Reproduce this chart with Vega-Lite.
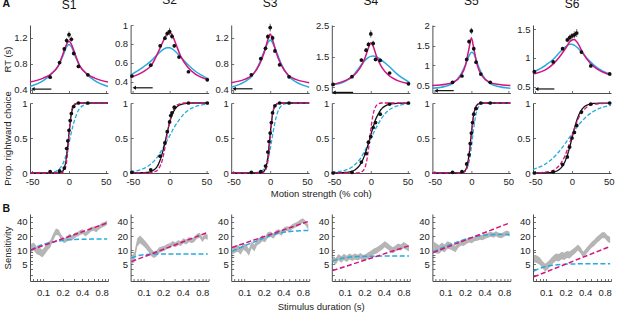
{
"$schema":"https://vega.github.io/schema/vega-lite/v6.json",
"padding":{"left":1,"right":2,"top":-6,"bottom":4},
"config":{
 "view":{"stroke":null},
 "font":"Liberation Sans",
 "axis":{"grid":false,"domainColor":"#4d4d4d","tickColor":"#4d4d4d","domainWidth":1,"tickWidth":0.8,"tickSize":-2.5,"labelPadding":5.5,"labelFontSize":9.5,"labelColor":"#222","labelFont":"Liberation Sans","titleFont":"Liberation Sans","titleFontSize":9.5,"titleFontWeight":"normal","titleColor":"#222","format":".2~f","labelFlush":false,"labelOverlap":false},
 "axisY":{"minExtent":16,"maxExtent":16,"titlePadding":2},
 "title":{"font":"Liberation Sans","fontSize":12,"fontWeight":"normal","color":"#111","offset":13,"frame":"group","anchor":"middle"}
},
"datasets":{
"rtfit":[
{"s":"S1","x":-53,"m":0.52,"c":0.45},{"s":"S1","x":-35,"m":0.58,"c":0.54},{"s":"S1","x":-25,"m":0.64,"c":0.63},{"s":"S1","x":-15,"m":0.76,"c":0.76},{"s":"S1","x":-8,"m":0.96,"c":0.93},{"s":"S1","x":-3,"m":1.11,"c":1.07},{"s":"S1","x":0,"m":1.15,"c":1.10},{"s":"S1","x":3,"m":1.11,"c":1.07},{"s":"S1","x":8,"m":0.96,"c":0.93},{"s":"S1","x":15,"m":0.76,"c":0.76},{"s":"S1","x":25,"m":0.64,"c":0.63},{"s":"S1","x":35,"m":0.58,"c":0.54},{"s":"S1","x":53,"m":0.52,"c":0.45},
{"s":"S2","x":-53,"m":0.445,"c":0.47},{"s":"S2","x":-35,"m":0.51,"c":0.56},{"s":"S2","x":-25,"m":0.57,"c":0.62},{"s":"S2","x":-15,"m":0.72,"c":0.70},{"s":"S2","x":-8,"m":0.84,"c":0.745},{"s":"S2","x":-3,"m":0.91,"c":0.76},{"s":"S2","x":0,"m":0.92,"c":0.76},{"s":"S2","x":3,"m":0.90,"c":0.75},{"s":"S2","x":8,"m":0.81,"c":0.72},{"s":"S2","x":15,"m":0.67,"c":0.66},{"s":"S2","x":25,"m":0.55,"c":0.58},{"s":"S2","x":35,"m":0.48,"c":0.51},{"s":"S2","x":53,"m":0.42,"c":0.43},
{"s":"S3","x":-53,"m":0.51,"c":0.44},{"s":"S3","x":-35,"m":0.56,"c":0.52},{"s":"S3","x":-25,"m":0.62,"c":0.61},{"s":"S3","x":-15,"m":0.78,"c":0.80},{"s":"S3","x":-8,"m":0.98,"c":1.00},{"s":"S3","x":-3,"m":1.18,"c":1.13},{"s":"S3","x":0,"m":1.26,"c":1.17},{"s":"S3","x":3,"m":1.18,"c":1.13},{"s":"S3","x":8,"m":0.98,"c":1.00},{"s":"S3","x":15,"m":0.78,"c":0.80},{"s":"S3","x":25,"m":0.62,"c":0.61},{"s":"S3","x":35,"m":0.56,"c":0.52},{"s":"S3","x":53,"m":0.51,"c":0.44},
{"s":"S4","x":-53,"m":0.59,"c":0.58},{"s":"S4","x":-35,"m":0.72,"c":0.70},{"s":"S4","x":-25,"m":0.85,"c":0.86},{"s":"S4","x":-15,"m":1.12,"c":1.17},{"s":"S4","x":-8,"m":1.45,"c":1.38},{"s":"S4","x":-3,"m":1.80,"c":1.48},{"s":"S4","x":0,"m":1.95,"c":1.51},{"s":"S4","x":3,"m":1.85,"c":1.52},{"s":"S4","x":8,"m":1.50,"c":1.49},{"s":"S4","x":15,"m":1.15,"c":1.38},{"s":"S4","x":25,"m":0.88,"c":1.18},{"s":"S4","x":35,"m":0.74,"c":0.95},{"s":"S4","x":53,"m":0.62,"c":0.66},
{"s":"S5","x":-53,"m":0.49,"c":0.42},{"s":"S5","x":-35,"m":0.52,"c":0.47},{"s":"S5","x":-25,"m":0.57,"c":0.55},{"s":"S5","x":-15,"m":0.72,"c":0.75},{"s":"S5","x":-8,"m":1.00,"c":1.02},{"s":"S5","x":-3,"m":1.45,"c":1.25},{"s":"S5","x":0,"m":1.70,"c":1.33},{"s":"S5","x":3,"m":1.45,"c":1.30},{"s":"S5","x":8,"m":1.00,"c":1.05},{"s":"S5","x":15,"m":0.72,"c":0.75},{"s":"S5","x":25,"m":0.57,"c":0.55},{"s":"S5","x":35,"m":0.52,"c":0.47},{"s":"S5","x":53,"m":0.49,"c":0.42},
{"s":"S6","x":-53,"m":0.72,"c":0.75},{"s":"S6","x":-35,"m":0.80,"c":0.88},{"s":"S6","x":-25,"m":0.90,"c":0.98},{"s":"S6","x":-15,"m":1.05,"c":1.12},{"s":"S6","x":-8,"m":1.18,"c":1.20},{"s":"S6","x":-3,"m":1.28,"c":1.235},{"s":"S6","x":0,"m":1.31,"c":1.235},{"s":"S6","x":3,"m":1.32,"c":1.22},{"s":"S6","x":8,"m":1.25,"c":1.17},{"s":"S6","x":15,"m":1.08,"c":1.07},{"s":"S6","x":25,"m":0.90,"c":0.93},{"s":"S6","x":35,"m":0.80,"c":0.82},{"s":"S6","x":53,"m":0.70,"c":0.71}
],
"rtdata":[
{"s":"S1","x":-25.6,"y":0.595,"lo":0.58,"hi":0.61},{"s":"S1","x":-12.8,"y":0.82,"lo":0.80,"hi":0.84},{"s":"S1","x":-6.4,"y":1.03,"lo":1.00,"hi":1.06},{"s":"S1","x":-3.2,"y":1.16,"lo":1.12,"hi":1.20},{"s":"S1","x":0,"y":1.25,"lo":1.20,"hi":1.30},{"s":"S1","x":3.2,"y":1.18,"lo":1.14,"hi":1.22},{"s":"S1","x":6.4,"y":0.96,"lo":0.93,"hi":0.99},{"s":"S1","x":12.8,"y":0.76,"lo":0.74,"hi":0.78},{"s":"S1","x":25.6,"y":0.63,"lo":0.61,"hi":0.65},
{"s":"S2","x":-51.2,"y":0.46,"lo":0.45,"hi":0.47},{"s":"S2","x":-25.6,"y":0.575,"lo":0.565,"hi":0.585},{"s":"S2","x":-12.8,"y":0.78,"lo":0.765,"hi":0.795},{"s":"S2","x":-6.4,"y":0.86,"lo":0.84,"hi":0.88},{"s":"S2","x":-3.2,"y":0.91,"lo":0.88,"hi":0.94},{"s":"S2","x":0,"y":0.93,"lo":0.89,"hi":0.97},{"s":"S2","x":3.2,"y":0.88,"lo":0.85,"hi":0.91},{"s":"S2","x":6.4,"y":0.78,"lo":0.76,"hi":0.80},{"s":"S2","x":12.8,"y":0.66,"lo":0.65,"hi":0.67},{"s":"S2","x":25.6,"y":0.505,"lo":0.495,"hi":0.515},{"s":"S2","x":51.2,"y":0.42,"lo":0.41,"hi":0.43},
{"s":"S3","x":-25.6,"y":0.63,"lo":0.61,"hi":0.65},{"s":"S3","x":-12.8,"y":0.88,"lo":0.86,"hi":0.90},{"s":"S3","x":-6.4,"y":1.04,"lo":1.01,"hi":1.07},{"s":"S3","x":-3.2,"y":1.22,"lo":1.18,"hi":1.26},{"s":"S3","x":0,"y":1.36,"lo":1.30,"hi":1.42},{"s":"S3","x":3.2,"y":1.20,"lo":1.16,"hi":1.24},{"s":"S3","x":6.4,"y":1.00,"lo":0.97,"hi":1.03},{"s":"S3","x":12.8,"y":0.785,"lo":0.77,"hi":0.80},{"s":"S3","x":25.6,"y":0.60,"lo":0.585,"hi":0.615},
{"s":"S4","x":-51.2,"y":0.60,"lo":0.58,"hi":0.62},{"s":"S4","x":-25.6,"y":0.85,"lo":0.82,"hi":0.88},{"s":"S4","x":-12.8,"y":1.39,"lo":1.34,"hi":1.44},{"s":"S4","x":-6.4,"y":1.71,"lo":1.64,"hi":1.78},{"s":"S4","x":-3.2,"y":1.90,"lo":1.82,"hi":1.98},{"s":"S4","x":0,"y":2.24,"lo":2.12,"hi":2.36},{"s":"S4","x":3.2,"y":1.93,"lo":1.84,"hi":2.02},{"s":"S4","x":6.4,"y":1.41,"lo":1.35,"hi":1.47},{"s":"S4","x":12.8,"y":1.38,"lo":1.33,"hi":1.43},{"s":"S4","x":25.6,"y":0.97,"lo":0.94,"hi":1.00},{"s":"S4","x":51.2,"y":0.62,"lo":0.60,"hi":0.64},
{"s":"S5","x":-25.6,"y":0.57,"lo":0.56,"hi":0.58},{"s":"S5","x":-12.8,"y":0.73,"lo":0.71,"hi":0.75},{"s":"S5","x":-6.4,"y":1.15,"lo":1.11,"hi":1.19},{"s":"S5","x":-3.2,"y":1.60,"lo":1.54,"hi":1.66},{"s":"S5","x":0,"y":1.87,"lo":1.79,"hi":1.95},{"s":"S5","x":3.2,"y":1.42,"lo":1.37,"hi":1.47},{"s":"S5","x":6.4,"y":1.08,"lo":1.04,"hi":1.12},{"s":"S5","x":12.8,"y":0.78,"lo":0.76,"hi":0.80},{"s":"S5","x":25.6,"y":0.57,"lo":0.56,"hi":0.58},
{"s":"S6","x":-51.2,"y":0.76,"lo":0.745,"hi":0.775},{"s":"S6","x":-25.6,"y":0.93,"lo":0.91,"hi":0.95},{"s":"S6","x":-12.8,"y":1.16,"lo":1.13,"hi":1.19},{"s":"S6","x":-6.4,"y":1.31,"lo":1.27,"hi":1.35},{"s":"S6","x":-3.2,"y":1.35,"lo":1.30,"hi":1.40},{"s":"S6","x":0,"y":1.38,"lo":1.33,"hi":1.43},{"s":"S6","x":3.2,"y":1.40,"lo":1.34,"hi":1.46},{"s":"S6","x":6.4,"y":1.43,"lo":1.36,"hi":1.50},{"s":"S6","x":12.8,"y":1.10,"lo":1.07,"hi":1.13},{"s":"S6","x":25.6,"y":0.86,"lo":0.84,"hi":0.88},{"s":"S6","x":51.2,"y":0.72,"lo":0.705,"hi":0.735}
],
"arrows":[
{"s":"S1","x":-49,"x2":-24,"y":0.41},{"s":"S2","x":-48,"x2":-23,"y":0.335},{"s":"S3","x":-49,"x2":-24,"y":0.415},{"s":"S4","x":-50,"x2":-24,"y":0.34},{"s":"S5","x":-48,"x2":-24,"y":0.36},{"s":"S6","x":-48,"x2":-24,"y":0.46}
],
"pfit":[
{"s":"S1","x":-53,"b":0,"m":0,"c":0},{"s":"S1","x":-30,"b":0,"m":0,"c":0.0025},{"s":"S1","x":-20,"b":0,"m":0,"c":0.016},{"s":"S1","x":-14,"b":0.003,"m":0.001,"c":0.05},{"s":"S1","x":-10,"b":0.016,"m":0.005,"c":0.10},{"s":"S1","x":-6,"b":0.085,"m":0.043,"c":0.19},{"s":"S1","x":-3,"b":0.26,"m":0.18,"c":0.30},{"s":"S1","x":0,"b":0.565,"m":0.54,"c":0.43},{"s":"S1","x":3,"b":0.83,"m":0.86,"c":0.57},{"s":"S1","x":6,"b":0.948,"m":0.97,"c":0.70},{"s":"S1","x":10,"b":0.99,"m":0.995,"c":0.83},{"s":"S1","x":14,"b":1,"m":1,"c":0.915},{"s":"S1","x":20,"b":1,"m":1,"c":0.97},{"s":"S1","x":30,"b":1,"m":1,"c":0.995},{"s":"S1","x":53,"b":1,"m":1,"c":1},
{"s":"S2","x":-53,"b":0,"m":0,"c":0.016},{"s":"S2","x":-30,"b":0.009,"m":0.0015,"c":0.093},{"s":"S2","x":-20,"b":0.055,"m":0.018,"c":0.185},{"s":"S2","x":-14,"b":0.153,"m":0.076,"c":0.27},{"s":"S2","x":-10,"b":0.28,"m":0.18,"c":0.34},{"s":"S2","x":-6,"b":0.45,"m":0.38,"c":0.41},{"s":"S2","x":-3,"b":0.59,"m":0.56,"c":0.47},{"s":"S2","x":0,"b":0.72,"m":0.73,"c":0.53},{"s":"S2","x":3,"b":0.82,"m":0.85,"c":0.59},{"s":"S2","x":6,"b":0.89,"m":0.92,"c":0.65},{"s":"S2","x":10,"b":0.945,"m":0.97,"c":0.715},{"s":"S2","x":14,"b":0.974,"m":0.99,"c":0.775},{"s":"S2","x":20,"b":0.99,"m":1,"c":0.85},{"s":"S2","x":30,"b":1,"m":1,"c":0.926},{"s":"S2","x":53,"b":1,"m":1,"c":0.987},
{"s":"S3","x":-53,"b":0,"m":0,"c":0},{"s":"S3","x":-30,"b":0,"m":0,"c":0},{"s":"S3","x":-20,"b":0,"m":0,"c":0.0035},{"s":"S3","x":-14,"b":0.002,"m":0.001,"c":0.0155},{"s":"S3","x":-10,"b":0.013,"m":0.007,"c":0.041},{"s":"S3","x":-6,"b":0.078,"m":0.047,"c":0.104},{"s":"S3","x":-3,"b":0.245,"m":0.18,"c":0.198},{"s":"S3","x":0,"b":0.556,"m":0.5,"c":0.343},{"s":"S3","x":3,"b":0.83,"m":0.82,"c":0.525},{"s":"S3","x":6,"b":0.95,"m":0.953,"c":0.70},{"s":"S3","x":10,"b":0.99,"m":0.993,"c":0.864},{"s":"S3","x":14,"b":1,"m":1,"c":0.945},{"s":"S3","x":20,"b":1,"m":1,"c":0.987},{"s":"S3","x":30,"b":1,"m":1,"c":1},{"s":"S3","x":53,"b":1,"m":1,"c":1},
{"s":"S4","x":-53,"b":0,"m":0,"c":0.008},{"s":"S4","x":-30,"b":0.013,"m":0,"c":0.06},{"s":"S4","x":-20,"b":0.056,"m":0.001,"c":0.136},{"s":"S4","x":-14,"b":0.128,"m":0.009,"c":0.21},{"s":"S4","x":-10,"b":0.21,"m":0.038,"c":0.28},{"s":"S4","x":-6,"b":0.33,"m":0.15,"c":0.36},{"s":"S4","x":-3,"b":0.43,"m":0.35,"c":0.42},{"s":"S4","x":0,"b":0.545,"m":0.62,"c":0.49},{"s":"S4","x":3,"b":0.65,"m":0.83,"c":0.556},{"s":"S4","x":6,"b":0.75,"m":0.937,"c":0.62},{"s":"S4","x":10,"b":0.84,"m":0.985,"c":0.70},{"s":"S4","x":14,"b":0.907,"m":1,"c":0.77},{"s":"S4","x":20,"b":0.96,"m":1,"c":0.853},{"s":"S4","x":30,"b":0.99,"m":1,"c":0.934},{"s":"S4","x":53,"b":1,"m":1,"c":0.991},
{"s":"S5","x":-53,"b":0,"m":0,"c":0},{"s":"S5","x":-30,"b":0,"m":0,"c":0},{"s":"S5","x":-20,"b":0,"m":0,"c":0.0006},{"s":"S5","x":-14,"b":0.004,"m":0.002,"c":0.0045},{"s":"S5","x":-10,"b":0.02,"m":0.013,"c":0.018},{"s":"S5","x":-6,"b":0.097,"m":0.076,"c":0.068},{"s":"S5","x":-3,"b":0.275,"m":0.245,"c":0.17},{"s":"S5","x":0,"b":0.57,"m":0.556,"c":0.37},{"s":"S5","x":3,"b":0.825,"m":0.83,"c":0.63},{"s":"S5","x":6,"b":0.943,"m":0.95,"c":0.83},{"s":"S5","x":10,"b":0.989,"m":0.99,"c":0.95},{"s":"S5","x":14,"b":1,"m":1,"c":0.988},{"s":"S5","x":20,"b":1,"m":1,"c":1},{"s":"S5","x":30,"b":1,"m":1,"c":1},{"s":"S5","x":53,"b":1,"m":1,"c":1},
{"s":"S6","x":-53,"b":0,"m":0.001,"c":0.05},{"s":"S6","x":-30,"b":0.006,"m":0.022,"c":0.174},{"s":"S6","x":-20,"b":0.032,"m":0.078,"c":0.277},{"s":"S6","x":-14,"b":0.085,"m":0.156,"c":0.354},{"s":"S6","x":-10,"b":0.154,"m":0.237,"c":0.41},{"s":"S6","x":-6,"b":0.265,"m":0.343,"c":0.47},{"s":"S6","x":-3,"b":0.375,"m":0.435,"c":0.515},{"s":"S6","x":0,"b":0.5,"m":0.532,"c":0.56},{"s":"S6","x":3,"b":0.625,"m":0.627,"c":0.60},{"s":"S6","x":6,"b":0.735,"m":0.713,"c":0.646},{"s":"S6","x":10,"b":0.846,"m":0.807,"c":0.70},{"s":"S6","x":14,"b":0.915,"m":0.875,"c":0.746},{"s":"S6","x":20,"b":0.968,"m":0.939,"c":0.81},{"s":"S6","x":30,"b":0.994,"m":0.982,"c":0.885},{"s":"S6","x":53,"b":1,"m":0.999,"c":0.968}
],
"pdata":[
{"s":"S1","x":-25.6,"y":0.02},{"s":"S1","x":-12.8,"y":0.03},{"s":"S1","x":-6.4,"y":0.07},{"s":"S1","x":-3.2,"y":0.35},{"s":"S1","x":-1.6,"y":0.46},{"s":"S1","x":0,"y":0.61},{"s":"S1","x":1.6,"y":0.75},{"s":"S1","x":3.2,"y":0.85},{"s":"S1","x":6.4,"y":0.95},{"s":"S1","x":12.8,"y":1},{"s":"S1","x":25.6,"y":1},
{"s":"S2","x":-51.2,"y":0.01},{"s":"S2","x":-25.6,"y":0.045},{"s":"S2","x":-12.8,"y":0.24},{"s":"S2","x":-6.4,"y":0.43},{"s":"S2","x":-3.2,"y":0.59},{"s":"S2","x":0,"y":0.73},{"s":"S2","x":1.6,"y":0.82},{"s":"S2","x":3.2,"y":0.86},{"s":"S2","x":6.4,"y":0.94},{"s":"S2","x":25.6,"y":1},{"s":"S2","x":51.2,"y":1},
{"s":"S3","x":-25.6,"y":0.01},{"s":"S3","x":-12.8,"y":0.02},{"s":"S3","x":-6.4,"y":0.1},{"s":"S3","x":-3.2,"y":0.3},{"s":"S3","x":-1.6,"y":0.45},{"s":"S3","x":0,"y":0.57},{"s":"S3","x":1.6,"y":0.72},{"s":"S3","x":3.2,"y":0.86},{"s":"S3","x":6.4,"y":0.96},{"s":"S3","x":12.8,"y":1},{"s":"S3","x":25.6,"y":1},
{"s":"S4","x":-51.2,"y":0},{"s":"S4","x":-25.6,"y":0.01},{"s":"S4","x":-12.8,"y":0.156},{"s":"S4","x":-6.4,"y":0.278},{"s":"S4","x":-3.2,"y":0.44},{"s":"S4","x":0,"y":0.52},{"s":"S4","x":3.2,"y":0.65},{"s":"S4","x":6.4,"y":0.72},{"s":"S4","x":12.8,"y":0.84},{"s":"S4","x":25.6,"y":0.985},{"s":"S4","x":51.2,"y":1},
{"s":"S5","x":-25.6,"y":0.01},{"s":"S5","x":-12.8,"y":0.02},{"s":"S5","x":-6.4,"y":0.13},{"s":"S5","x":-3.2,"y":0.26},{"s":"S5","x":-1.6,"y":0.42},{"s":"S5","x":0,"y":0.57},{"s":"S5","x":1.6,"y":0.72},{"s":"S5","x":3.2,"y":0.84},{"s":"S5","x":6.4,"y":0.92},{"s":"S5","x":12.8,"y":1},{"s":"S5","x":25.6,"y":1},
{"s":"S6","x":-51.2,"y":0},{"s":"S6","x":-25.6,"y":0.015},{"s":"S6","x":-12.8,"y":0.12},{"s":"S6","x":-6.4,"y":0.23},{"s":"S6","x":-3.2,"y":0.37},{"s":"S6","x":0,"y":0.5},{"s":"S6","x":3.2,"y":0.58},{"s":"S6","x":6.4,"y":0.68},{"s":"S6","x":12.8,"y":0.87},{"s":"S6","x":25.6,"y":0.985},{"s":"S6","x":51.2,"y":1}
],
"band":[
{"s":"S1","x":0.065,"lo":9,"hi":13.5},{"s":"S1","x":0.072,"lo":9.8,"hi":14.5},{"s":"S1","x":0.08,"lo":8.2,"hi":12},{"s":"S1","x":0.088,"lo":7.8,"hi":11.5},{"s":"S1","x":0.097,"lo":7,"hi":10.2},{"s":"S1","x":0.107,"lo":8.2,"hi":12},{"s":"S1","x":0.118,"lo":10,"hi":14.5},{"s":"S1","x":0.13,"lo":11.5,"hi":16.5},{"s":"S1","x":0.143,"lo":16,"hi":22.5},{"s":"S1","x":0.158,"lo":21,"hi":29},{"s":"S1","x":0.174,"lo":20.5,"hi":27.5},{"s":"S1","x":0.19,"lo":16.5,"hi":21.5},{"s":"S1","x":0.21,"lo":14,"hi":18},{"s":"S1","x":0.23,"lo":15,"hi":19},{"s":"S1","x":0.255,"lo":17.5,"hi":22.5},{"s":"S1","x":0.28,"lo":16,"hi":20.5},{"s":"S1","x":0.31,"lo":18.5,"hi":23.5},{"s":"S1","x":0.34,"lo":19.5,"hi":24.5},{"s":"S1","x":0.375,"lo":21,"hi":27},{"s":"S1","x":0.41,"lo":22,"hi":28},{"s":"S1","x":0.45,"lo":19.5,"hi":24.5},{"s":"S1","x":0.5,"lo":22,"hi":28},{"s":"S1","x":0.55,"lo":25,"hi":31},{"s":"S1","x":0.6,"lo":26,"hi":32},{"s":"S1","x":0.66,"lo":24,"hi":30},{"s":"S1","x":0.73,"lo":27.5,"hi":34.5},{"s":"S1","x":0.8,"lo":30,"hi":38},{"s":"S1","x":0.88,"lo":32,"hi":40},{"s":"S1","x":0.97,"lo":35,"hi":43},
{"s":"S2","x":0.065,"lo":5,"hi":7.5},{"s":"S2","x":0.072,"lo":5.5,"hi":9},{"s":"S2","x":0.08,"lo":12,"hi":18},{"s":"S2","x":0.088,"lo":14,"hi":20.5},{"s":"S2","x":0.097,"lo":12.5,"hi":18},{"s":"S2","x":0.107,"lo":11,"hi":15.5},{"s":"S2","x":0.118,"lo":9.2,"hi":13},{"s":"S2","x":0.13,"lo":7.5,"hi":10.8},{"s":"S2","x":0.143,"lo":6.8,"hi":9.4},{"s":"S2","x":0.158,"lo":7.3,"hi":9.8},{"s":"S2","x":0.174,"lo":8.7,"hi":11.5},{"s":"S2","x":0.19,"lo":9.2,"hi":12},{"s":"S2","x":0.21,"lo":9.7,"hi":12.4},{"s":"S2","x":0.23,"lo":10.6,"hi":13.5},{"s":"S2","x":0.255,"lo":11,"hi":14},{"s":"S2","x":0.28,"lo":12.3,"hi":15.7},{"s":"S2","x":0.31,"lo":11.5,"hi":14.6},{"s":"S2","x":0.34,"lo":12.8,"hi":16.2},{"s":"S2","x":0.375,"lo":12.3,"hi":15.7},{"s":"S2","x":0.41,"lo":14.1,"hi":17.9},{"s":"S2","x":0.45,"lo":13.2,"hi":16.8},{"s":"S2","x":0.5,"lo":15,"hi":19},{"s":"S2","x":0.55,"lo":14.1,"hi":17.9},{"s":"S2","x":0.6,"lo":15,"hi":19},{"s":"S2","x":0.66,"lo":17.6,"hi":22.4},{"s":"S2","x":0.73,"lo":18.5,"hi":23.5},{"s":"S2","x":0.8,"lo":15,"hi":19},{"s":"S2","x":0.88,"lo":17.6,"hi":22.4},{"s":"S2","x":0.97,"lo":16.7,"hi":21.3},
{"s":"S3","x":0.065,"lo":8,"hi":11.5},{"s":"S3","x":0.072,"lo":8.8,"hi":12.5},{"s":"S3","x":0.08,"lo":9.3,"hi":13},{"s":"S3","x":0.088,"lo":8,"hi":11.3},{"s":"S3","x":0.097,"lo":10.2,"hi":14.2},{"s":"S3","x":0.107,"lo":9.3,"hi":13},{"s":"S3","x":0.118,"lo":7.6,"hi":10.7},{"s":"S3","x":0.13,"lo":11,"hi":15.3},{"s":"S3","x":0.143,"lo":9.4,"hi":13},{"s":"S3","x":0.158,"lo":12.8,"hi":17.5},{"s":"S3","x":0.174,"lo":13.7,"hi":18.6},{"s":"S3","x":0.19,"lo":15.5,"hi":20.7},{"s":"S3","x":0.21,"lo":14.7,"hi":19.5},{"s":"S3","x":0.23,"lo":18.2,"hi":24},{"s":"S3","x":0.255,"lo":19.2,"hi":25},{"s":"S3","x":0.28,"lo":17.4,"hi":22.7},{"s":"S3","x":0.31,"lo":21,"hi":27},{"s":"S3","x":0.34,"lo":22,"hi":28},{"s":"S3","x":0.375,"lo":20.2,"hi":26},{"s":"S3","x":0.41,"lo":23.8,"hi":30.3},{"s":"S3","x":0.45,"lo":25.5,"hi":32.5},{"s":"S3","x":0.5,"lo":24.6,"hi":31.4},{"s":"S3","x":0.55,"lo":28.2,"hi":36},{"s":"S3","x":0.6,"lo":30,"hi":38},{"s":"S3","x":0.66,"lo":31.7,"hi":40.3},{"s":"S3","x":0.73,"lo":35.2,"hi":44.8},{"s":"S3","x":0.8,"lo":37.8,"hi":48},{"s":"S3","x":0.88,"lo":33.4,"hi":42.6},{"s":"S3","x":0.97,"lo":27,"hi":35},
{"s":"S4","x":0.065,"lo":5.5,"hi":7.5},{"s":"S4","x":0.072,"lo":4.9,"hi":6.7},{"s":"S4","x":0.08,"lo":6.1,"hi":8.3},{"s":"S4","x":0.088,"lo":5.4,"hi":7.4},{"s":"S4","x":0.097,"lo":6.2,"hi":8.4},{"s":"S4","x":0.107,"lo":5.6,"hi":7.6},{"s":"S4","x":0.118,"lo":6.3,"hi":8.5},{"s":"S4","x":0.13,"lo":5.9,"hi":7.9},{"s":"S4","x":0.143,"lo":6.3,"hi":8.5},{"s":"S4","x":0.158,"lo":6,"hi":8},{"s":"S4","x":0.174,"lo":6.5,"hi":8.7},{"s":"S4","x":0.19,"lo":5.9,"hi":7.9},{"s":"S4","x":0.21,"lo":6.1,"hi":8.3},{"s":"S4","x":0.23,"lo":6.6,"hi":9},{"s":"S4","x":0.255,"lo":7.2,"hi":9.8},{"s":"S4","x":0.28,"lo":8.1,"hi":10.9},{"s":"S4","x":0.31,"lo":8.5,"hi":11.5},{"s":"S4","x":0.34,"lo":9.4,"hi":12.6},{"s":"S4","x":0.375,"lo":10.2,"hi":13.8},{"s":"S4","x":0.41,"lo":11.5,"hi":15.5},{"s":"S4","x":0.45,"lo":10.6,"hi":14.4},{"s":"S4","x":0.5,"lo":9.4,"hi":12.6},{"s":"S4","x":0.55,"lo":8.5,"hi":11.5},{"s":"S4","x":0.6,"lo":9.4,"hi":12.6},{"s":"S4","x":0.66,"lo":10.2,"hi":13.8},{"s":"S4","x":0.73,"lo":9.8,"hi":13.2},{"s":"S4","x":0.8,"lo":11,"hi":15},{"s":"S4","x":0.88,"lo":10.2,"hi":13.8},{"s":"S4","x":0.97,"lo":9.4,"hi":12.6},
{"s":"S5","x":0.065,"lo":9,"hi":15.5},{"s":"S5","x":0.072,"lo":8.5,"hi":14},{"s":"S5","x":0.08,"lo":8.4,"hi":12.8},{"s":"S5","x":0.088,"lo":9.6,"hi":14.5},{"s":"S5","x":0.097,"lo":9,"hi":13.2},{"s":"S5","x":0.107,"lo":10.6,"hi":15.5},{"s":"S5","x":0.118,"lo":10.4,"hi":14.8},{"s":"S5","x":0.13,"lo":9.7,"hi":13.5},{"s":"S5","x":0.143,"lo":9,"hi":12.2},{"s":"S5","x":0.158,"lo":11.2,"hi":15},{"s":"S5","x":0.174,"lo":12.6,"hi":16.5},{"s":"S5","x":0.19,"lo":12.2,"hi":15.9},{"s":"S5","x":0.21,"lo":13.6,"hi":17.5},{"s":"S5","x":0.23,"lo":14.5,"hi":18.5},{"s":"S5","x":0.255,"lo":14.1,"hi":18},{"s":"S5","x":0.28,"lo":15.4,"hi":19.6},{"s":"S5","x":0.31,"lo":15.8,"hi":20.2},{"s":"S5","x":0.34,"lo":16.7,"hi":21.3},{"s":"S5","x":0.375,"lo":16.3,"hi":20.7},{"s":"S5","x":0.41,"lo":17.6,"hi":22.4},{"s":"S5","x":0.45,"lo":18.5,"hi":23.5},{"s":"S5","x":0.5,"lo":19.4,"hi":24.6},{"s":"S5","x":0.55,"lo":18.5,"hi":23.5},{"s":"S5","x":0.6,"lo":19.8,"hi":25.2},{"s":"S5","x":0.66,"lo":18.5,"hi":23.5},{"s":"S5","x":0.73,"lo":18,"hi":23},{"s":"S5","x":0.8,"lo":19.4,"hi":24.6},{"s":"S5","x":0.88,"lo":20.7,"hi":26.3},{"s":"S5","x":0.97,"lo":19.4,"hi":24.6},
{"s":"S6","x":0.065,"lo":5.5,"hi":8},{"s":"S6","x":0.072,"lo":5.3,"hi":7.7},{"s":"S6","x":0.08,"lo":4.9,"hi":7.1},{"s":"S6","x":0.088,"lo":4.1,"hi":5.9},{"s":"S6","x":0.097,"lo":3.5,"hi":5.1},{"s":"S6","x":0.107,"lo":3.9,"hi":5.7},{"s":"S6","x":0.118,"lo":4.6,"hi":6.6},{"s":"S6","x":0.13,"lo":5.3,"hi":7.7},{"s":"S6","x":0.143,"lo":5.9,"hi":8.5},{"s":"S6","x":0.158,"lo":5.7,"hi":8.3},{"s":"S6","x":0.174,"lo":6.4,"hi":9.2},{"s":"S6","x":0.19,"lo":6.2,"hi":8.8},{"s":"S6","x":0.21,"lo":6.8,"hi":9.6},{"s":"S6","x":0.23,"lo":6.6,"hi":9.4},{"s":"S6","x":0.255,"lo":7.6,"hi":10.4},{"s":"S6","x":0.28,"lo":8.5,"hi":11.5},{"s":"S6","x":0.31,"lo":9.8,"hi":13.2},{"s":"S6","x":0.34,"lo":8.5,"hi":11.5},{"s":"S6","x":0.375,"lo":6.8,"hi":9.2},{"s":"S6","x":0.41,"lo":8.1,"hi":10.9},{"s":"S6","x":0.45,"lo":9.4,"hi":12.6},{"s":"S6","x":0.5,"lo":11.1,"hi":14.9},{"s":"S6","x":0.55,"lo":12.3,"hi":16.7},{"s":"S6","x":0.6,"lo":14,"hi":19},{"s":"S6","x":0.66,"lo":15.7,"hi":21.3},{"s":"S6","x":0.73,"lo":17.9,"hi":24.1},{"s":"S6","x":0.8,"lo":17.9,"hi":24.1},{"s":"S6","x":0.88,"lo":15.3,"hi":20.7},{"s":"S6","x":0.97,"lo":14,"hi":19}
],
"sfit":[
{"s":"S1","f":"c","x":0.065,"y":10},{"s":"S1","f":"c","x":0.08,"y":11.8},{"s":"S1","f":"c","x":0.1,"y":13.3},{"s":"S1","f":"c","x":0.13,"y":14.6},{"s":"S1","f":"c","x":0.17,"y":15.6},{"s":"S1","f":"c","x":0.22,"y":16.3},{"s":"S1","f":"c","x":0.3,"y":16.8},{"s":"S1","f":"c","x":0.4,"y":17.1},{"s":"S1","f":"c","x":0.55,"y":17.2},{"s":"S1","f":"c","x":0.75,"y":17.2},{"s":"S1","f":"c","x":0.97,"y":17.2},{"s":"S1","f":"m","x":0.065,"y":10.1},{"s":"S1","f":"m","x":0.97,"y":38},
{"s":"S2","f":"c","x":0.065,"y":6.8},{"s":"S2","f":"c","x":0.08,"y":7.6},{"s":"S2","f":"c","x":0.1,"y":8.0},{"s":"S2","f":"c","x":0.13,"y":8.2},{"s":"S2","f":"c","x":0.17,"y":8.3},{"s":"S2","f":"c","x":0.22,"y":8.3},{"s":"S2","f":"c","x":0.3,"y":8.3},{"s":"S2","f":"c","x":0.4,"y":8.3},{"s":"S2","f":"c","x":0.55,"y":8.3},{"s":"S2","f":"c","x":0.75,"y":8.3},{"s":"S2","f":"c","x":0.97,"y":8.3},{"s":"S2","f":"m","x":0.065,"y":5.7},{"s":"S2","f":"m","x":0.97,"y":24},
{"s":"S3","f":"c","x":0.065,"y":9.4},{"s":"S3","f":"c","x":0.08,"y":10.8},{"s":"S3","f":"c","x":0.1,"y":12.3},{"s":"S3","f":"c","x":0.13,"y":14.3},{"s":"S3","f":"c","x":0.17,"y":16.5},{"s":"S3","f":"c","x":0.22,"y":19},{"s":"S3","f":"c","x":0.3,"y":22},{"s":"S3","f":"c","x":0.4,"y":24},{"s":"S3","f":"c","x":0.55,"y":25.3},{"s":"S3","f":"c","x":0.75,"y":26},{"s":"S3","f":"c","x":0.97,"y":26.3},{"s":"S3","f":"m","x":0.065,"y":11.4},{"s":"S3","f":"m","x":0.97,"y":41},
{"s":"S4","f":"c","x":0.065,"y":5.9},{"s":"S4","f":"c","x":0.08,"y":6.5},{"s":"S4","f":"c","x":0.1,"y":6.9},{"s":"S4","f":"c","x":0.13,"y":7.2},{"s":"S4","f":"c","x":0.17,"y":7.35},{"s":"S4","f":"c","x":0.22,"y":7.4},{"s":"S4","f":"c","x":0.3,"y":7.45},{"s":"S4","f":"c","x":0.4,"y":7.5},{"s":"S4","f":"c","x":0.55,"y":7.5},{"s":"S4","f":"c","x":0.75,"y":7.5},{"s":"S4","f":"c","x":0.97,"y":7.5},{"s":"S4","f":"m","x":0.065,"y":3.66},{"s":"S4","f":"m","x":0.97,"y":12.4},
{"s":"S5","f":"c","x":0.065,"y":9.2},{"s":"S5","f":"c","x":0.08,"y":10.5},{"s":"S5","f":"c","x":0.1,"y":12},{"s":"S5","f":"c","x":0.13,"y":13.8},{"s":"S5","f":"c","x":0.17,"y":15.8},{"s":"S5","f":"c","x":0.22,"y":17.8},{"s":"S5","f":"c","x":0.3,"y":19.7},{"s":"S5","f":"c","x":0.4,"y":21},{"s":"S5","f":"c","x":0.55,"y":21.5},{"s":"S5","f":"c","x":0.75,"y":21.7},{"s":"S5","f":"c","x":0.97,"y":21.7},{"s":"S5","f":"m","x":0.065,"y":8.9},{"s":"S5","f":"m","x":0.97,"y":38},
{"s":"S6","f":"c","x":0.065,"y":3.6},{"s":"S6","f":"c","x":0.08,"y":4.1},{"s":"S6","f":"c","x":0.1,"y":4.5},{"s":"S6","f":"c","x":0.13,"y":4.8},{"s":"S6","f":"c","x":0.17,"y":4.95},{"s":"S6","f":"c","x":0.22,"y":5.05},{"s":"S6","f":"c","x":0.3,"y":5.1},{"s":"S6","f":"c","x":0.4,"y":5.1},{"s":"S6","f":"c","x":0.55,"y":5.1},{"s":"S6","f":"c","x":0.75,"y":5.1},{"s":"S6","f":"c","x":0.97,"y":5.1},{"s":"S6","f":"m","x":0.065,"y":2.7},{"s":"S6","f":"m","x":0.97,"y":12}
]
},
"columns":6,
"bounds":"flush",
"spacing":{"row":10,"column":22.6},
"concat":[
{"title":"S1","width":78,"height":68,
 "encoding":{"x":{"field":"x","type":"quantitative","scale":{"domain":[-53,53],"nice":false,"zero":false},"axis":{"values":[-50,0,50],"labels":false,"title":null}},
  "y":{"field":"y","type":"quantitative","scale":{"domain":[0.35,1.4],"nice":false,"zero":false},"axis":{"values":[0.4,0.8,1.2],"title":"RT (s)"}}},
 "layer":[
  {"data":{"name":"rtfit"},"transform":[{"filter":"datum.s=='S1'"},{"fold":["c","m"],"as":["f","y"]}],"mark":{"type":"line","interpolate":"monotone","strokeWidth":1.5},"encoding":{"color":{"field":"f","type":"nominal","scale":{"domain":["c","m","b"],"range":["#27aae1","#d4137f","#111111"]},"legend":null}}},
  {"data":{"name":"rtdata"},"transform":[{"filter":"datum.s=='S1'"}],"mark":{"type":"rule","color":"#444","strokeWidth":0.8},"encoding":{"y":{"field":"lo","type":"quantitative","title":null},"y2":{"field":"hi"}}},
  {"data":{"name":"rtdata"},"transform":[{"filter":"datum.s=='S1'"}],"mark":{"type":"point","filled":true,"size":14,"color":"#111","opacity":1}},
  {"data":{"name":"arrows"},"transform":[{"filter":"datum.s=='S1'"}],"mark":{"type":"rule","color":"#111","strokeWidth":1.2},"encoding":{"x2":{"field":"x2"}}},
  {"data":{"name":"arrows"},"transform":[{"filter":"datum.s=='S1'"}],"mark":{"type":"point","shape":"triangle-left","filled":true,"size":16,"color":"#111","opacity":1}}
 ]},
{"title":"S2","width":78,"height":68,
 "encoding":{"x":{"field":"x","type":"quantitative","scale":{"domain":[-53,53],"nice":false,"zero":false},"axis":{"values":[-50,0,50],"labels":false,"title":null}},
  "y":{"field":"y","type":"quantitative","scale":{"domain":[0.28,1.0],"nice":false,"zero":false},"axis":{"values":[0.4,0.6,0.8,1],"title":null}}},
 "layer":[
  {"data":{"name":"rtfit"},"transform":[{"filter":"datum.s=='S2'"},{"fold":["c","m"],"as":["f","y"]}],"mark":{"type":"line","interpolate":"monotone","strokeWidth":1.5},"encoding":{"color":{"field":"f","type":"nominal","scale":{"domain":["c","m","b"],"range":["#27aae1","#d4137f","#111111"]},"legend":null}}},
  {"data":{"name":"rtdata"},"transform":[{"filter":"datum.s=='S2'"}],"mark":{"type":"rule","color":"#444","strokeWidth":0.8},"encoding":{"y":{"field":"lo","type":"quantitative","title":null},"y2":{"field":"hi"}}},
  {"data":{"name":"rtdata"},"transform":[{"filter":"datum.s=='S2'"}],"mark":{"type":"point","filled":true,"size":14,"color":"#111","opacity":1}},
  {"data":{"name":"arrows"},"transform":[{"filter":"datum.s=='S2'"}],"mark":{"type":"rule","color":"#111","strokeWidth":1.2},"encoding":{"x2":{"field":"x2"}}},
  {"data":{"name":"arrows"},"transform":[{"filter":"datum.s=='S2'"}],"mark":{"type":"point","shape":"triangle-left","filled":true,"size":16,"color":"#111","opacity":1}}
 ]},
{"title":"S3","width":78,"height":68,
 "encoding":{"x":{"field":"x","type":"quantitative","scale":{"domain":[-53,53],"nice":false,"zero":false},"axis":{"values":[-50,0,50],"labels":false,"title":null}},
  "y":{"field":"y","type":"quantitative","scale":{"domain":[0.35,1.4],"nice":false,"zero":false},"axis":{"values":[0.4,0.8,1.2],"title":null}}},
 "layer":[
  {"data":{"name":"rtfit"},"transform":[{"filter":"datum.s=='S3'"},{"fold":["c","m"],"as":["f","y"]}],"mark":{"type":"line","interpolate":"monotone","strokeWidth":1.5},"encoding":{"color":{"field":"f","type":"nominal","scale":{"domain":["c","m","b"],"range":["#27aae1","#d4137f","#111111"]},"legend":null}}},
  {"data":{"name":"rtdata"},"transform":[{"filter":"datum.s=='S3'"}],"mark":{"type":"rule","color":"#444","strokeWidth":0.8},"encoding":{"y":{"field":"lo","type":"quantitative","title":null},"y2":{"field":"hi"}}},
  {"data":{"name":"rtdata"},"transform":[{"filter":"datum.s=='S3'"}],"mark":{"type":"point","filled":true,"size":14,"color":"#111","opacity":1}},
  {"data":{"name":"arrows"},"transform":[{"filter":"datum.s=='S3'"}],"mark":{"type":"rule","color":"#111","strokeWidth":1.2},"encoding":{"x2":{"field":"x2"}}},
  {"data":{"name":"arrows"},"transform":[{"filter":"datum.s=='S3'"}],"mark":{"type":"point","shape":"triangle-left","filled":true,"size":16,"color":"#111","opacity":1}}
 ]},
{"title":"S4","width":78,"height":68,
 "encoding":{"x":{"field":"x","type":"quantitative","scale":{"domain":[-53,53],"nice":false,"zero":false},"axis":{"values":[-50,0,50],"labels":false,"title":null}},
  "y":{"field":"y","type":"quantitative","scale":{"domain":[0.32,2.53],"nice":false,"zero":false},"axis":{"values":[0.5,1.5,2.5],"title":null}}},
 "layer":[
  {"data":{"name":"rtfit"},"transform":[{"filter":"datum.s=='S4'"},{"fold":["c","m"],"as":["f","y"]}],"mark":{"type":"line","interpolate":"monotone","strokeWidth":1.5},"encoding":{"color":{"field":"f","type":"nominal","scale":{"domain":["c","m","b"],"range":["#27aae1","#d4137f","#111111"]},"legend":null}}},
  {"data":{"name":"rtdata"},"transform":[{"filter":"datum.s=='S4'"}],"mark":{"type":"rule","color":"#444","strokeWidth":0.8},"encoding":{"y":{"field":"lo","type":"quantitative","title":null},"y2":{"field":"hi"}}},
  {"data":{"name":"rtdata"},"transform":[{"filter":"datum.s=='S4'"}],"mark":{"type":"point","filled":true,"size":14,"color":"#111","opacity":1}},
  {"data":{"name":"arrows"},"transform":[{"filter":"datum.s=='S4'"}],"mark":{"type":"rule","color":"#111","strokeWidth":1.2},"encoding":{"x2":{"field":"x2"}}},
  {"data":{"name":"arrows"},"transform":[{"filter":"datum.s=='S4'"}],"mark":{"type":"point","shape":"triangle-left","filled":true,"size":16,"color":"#111","opacity":1}}
 ]},
{"title":"S5","width":78,"height":68,
 "encoding":{"x":{"field":"x","type":"quantitative","scale":{"domain":[-53,53],"nice":false,"zero":false},"axis":{"values":[-50,0,50],"labels":false,"title":null}},
  "y":{"field":"y","type":"quantitative","scale":{"domain":[0.3,2.02],"nice":false,"zero":false},"axis":{"values":[0.5,1,1.5,2],"title":null}}},
 "layer":[
  {"data":{"name":"rtfit"},"transform":[{"filter":"datum.s=='S5'"},{"fold":["c","m"],"as":["f","y"]}],"mark":{"type":"line","interpolate":"monotone","strokeWidth":1.5},"encoding":{"color":{"field":"f","type":"nominal","scale":{"domain":["c","m","b"],"range":["#27aae1","#d4137f","#111111"]},"legend":null}}},
  {"data":{"name":"rtdata"},"transform":[{"filter":"datum.s=='S5'"}],"mark":{"type":"rule","color":"#444","strokeWidth":0.8},"encoding":{"y":{"field":"lo","type":"quantitative","title":null},"y2":{"field":"hi"}}},
  {"data":{"name":"rtdata"},"transform":[{"filter":"datum.s=='S5'"}],"mark":{"type":"point","filled":true,"size":14,"color":"#111","opacity":1}},
  {"data":{"name":"arrows"},"transform":[{"filter":"datum.s=='S5'"}],"mark":{"type":"rule","color":"#111","strokeWidth":1.2},"encoding":{"x2":{"field":"x2"}}},
  {"data":{"name":"arrows"},"transform":[{"filter":"datum.s=='S5'"}],"mark":{"type":"point","shape":"triangle-left","filled":true,"size":16,"color":"#111","opacity":1}}
 ]},
{"title":"S6","width":78,"height":68,
 "encoding":{"x":{"field":"x","type":"quantitative","scale":{"domain":[-53,53],"nice":false,"zero":false},"axis":{"values":[-50,0,50],"labels":false,"title":null}},
  "y":{"field":"y","type":"quantitative","scale":{"domain":[0.39,1.57],"nice":false,"zero":false},"axis":{"values":[0.5,1,1.5],"title":null}}},
 "layer":[
  {"data":{"name":"rtfit"},"transform":[{"filter":"datum.s=='S6'"},{"fold":["c","m"],"as":["f","y"]}],"mark":{"type":"line","interpolate":"monotone","strokeWidth":1.5},"encoding":{"color":{"field":"f","type":"nominal","scale":{"domain":["c","m","b"],"range":["#27aae1","#d4137f","#111111"]},"legend":null}}},
  {"data":{"name":"rtdata"},"transform":[{"filter":"datum.s=='S6'"}],"mark":{"type":"rule","color":"#444","strokeWidth":0.8},"encoding":{"y":{"field":"lo","type":"quantitative","title":null},"y2":{"field":"hi"}}},
  {"data":{"name":"rtdata"},"transform":[{"filter":"datum.s=='S6'"}],"mark":{"type":"point","filled":true,"size":14,"color":"#111","opacity":1}},
  {"data":{"name":"arrows"},"transform":[{"filter":"datum.s=='S6'"}],"mark":{"type":"rule","color":"#111","strokeWidth":1.2},"encoding":{"x2":{"field":"x2"}}},
  {"data":{"name":"arrows"},"transform":[{"filter":"datum.s=='S6'"}],"mark":{"type":"point","shape":"triangle-left","filled":true,"size":16,"color":"#111","opacity":1}}
 ]},
{"width":78,"height":70,
 "encoding":{"x":{"field":"x","type":"quantitative","scale":{"domain":[-53,53],"nice":false,"zero":false},"axis":{"values":[-50,0,50],"labelExpr":"replace(datum.label,'\u2212','-')","title":"A","titleX":-28,"titleY":-170,"titleAlign":"left","titleBaseline":"middle","titleAngle":0,"titleFontWeight":"bold","titleFontSize":10.5,"titleColor":"#111"}},
  "y":{"field":"y","type":"quantitative","scale":{"domain":[0,1],"nice":false},"axis":{"values":[0,0.5,1],"title":"Prop. rightward choice"}}},
 "layer":[
  {"data":{"name":"pfit"},"transform":[{"filter":"datum.s=='S1'"},{"fold":["c","b","m"],"as":["f","y"]}],"mark":{"type":"line","interpolate":"monotone","strokeWidth":1.3},"encoding":{"color":{"field":"f","type":"nominal","scale":{"domain":["c","m","b"],"range":["#27aae1","#d4137f","#111111"]},"legend":null},"strokeDash":{"field":"f","type":"nominal","scale":{"domain":["c","m","b"],"range":[[4,2],[4,2],[1,0]]},"legend":null}}},
  {"data":{"name":"pdata"},"transform":[{"filter":"datum.s=='S1'"}],"mark":{"type":"point","filled":true,"size":14,"color":"#111","opacity":1}}
 ]},
{"width":78,"height":70,
 "encoding":{"x":{"field":"x","type":"quantitative","scale":{"domain":[-53,53],"nice":false,"zero":false},"axis":{"values":[-50,0,50],"title":null,"labelExpr":"replace(datum.label,'\u2212','-')"}},
  "y":{"field":"y","type":"quantitative","scale":{"domain":[0,1],"nice":false},"axis":{"values":[0,0.5,1],"title":null}}},
 "layer":[
  {"data":{"name":"pfit"},"transform":[{"filter":"datum.s=='S2'"},{"fold":["c","b","m"],"as":["f","y"]}],"mark":{"type":"line","interpolate":"monotone","strokeWidth":1.3},"encoding":{"color":{"field":"f","type":"nominal","scale":{"domain":["c","m","b"],"range":["#27aae1","#d4137f","#111111"]},"legend":null},"strokeDash":{"field":"f","type":"nominal","scale":{"domain":["c","m","b"],"range":[[4,2],[4,2],[1,0]]},"legend":null}}},
  {"data":{"name":"pdata"},"transform":[{"filter":"datum.s=='S2'"}],"mark":{"type":"point","filled":true,"size":14,"color":"#111","opacity":1}}
 ]},
{"width":78,"height":70,
 "encoding":{"x":{"field":"x","type":"quantitative","scale":{"domain":[-53,53],"nice":false,"zero":false},"axis":{"values":[-50,0,50],"title":"Motion strength (% coh)","titleX":89.5,"titleAlign":"center","titlePadding":3,"labelExpr":"replace(datum.label,'\u2212','-')"}},
  "y":{"field":"y","type":"quantitative","scale":{"domain":[0,1],"nice":false},"axis":{"values":[0,0.5,1],"title":null}}},
 "layer":[
  {"data":{"name":"pfit"},"transform":[{"filter":"datum.s=='S3'"},{"fold":["c","b","m"],"as":["f","y"]}],"mark":{"type":"line","interpolate":"monotone","strokeWidth":1.3},"encoding":{"color":{"field":"f","type":"nominal","scale":{"domain":["c","m","b"],"range":["#27aae1","#d4137f","#111111"]},"legend":null},"strokeDash":{"field":"f","type":"nominal","scale":{"domain":["c","m","b"],"range":[[4,2],[4,2],[1,0]]},"legend":null}}},
  {"data":{"name":"pdata"},"transform":[{"filter":"datum.s=='S3'"}],"mark":{"type":"point","filled":true,"size":14,"color":"#111","opacity":1}}
 ]},
{"width":78,"height":70,
 "encoding":{"x":{"field":"x","type":"quantitative","scale":{"domain":[-53,53],"nice":false,"zero":false},"axis":{"values":[-50,0,50],"title":null,"labelExpr":"replace(datum.label,'\u2212','-')"}},
  "y":{"field":"y","type":"quantitative","scale":{"domain":[0,1],"nice":false},"axis":{"values":[0,0.5,1],"title":null}}},
 "layer":[
  {"data":{"name":"pfit"},"transform":[{"filter":"datum.s=='S4'"},{"fold":["c","b","m"],"as":["f","y"]}],"mark":{"type":"line","interpolate":"monotone","strokeWidth":1.3},"encoding":{"color":{"field":"f","type":"nominal","scale":{"domain":["c","m","b"],"range":["#27aae1","#d4137f","#111111"]},"legend":null},"strokeDash":{"field":"f","type":"nominal","scale":{"domain":["c","m","b"],"range":[[4,2],[4,2],[1,0]]},"legend":null}}},
  {"data":{"name":"pdata"},"transform":[{"filter":"datum.s=='S4'"}],"mark":{"type":"point","filled":true,"size":14,"color":"#111","opacity":1}}
 ]},
{"width":78,"height":70,
 "encoding":{"x":{"field":"x","type":"quantitative","scale":{"domain":[-53,53],"nice":false,"zero":false},"axis":{"values":[-50,0,50],"title":null,"labelExpr":"replace(datum.label,'\u2212','-')"}},
  "y":{"field":"y","type":"quantitative","scale":{"domain":[0,1],"nice":false},"axis":{"values":[0,0.5,1],"title":null}}},
 "layer":[
  {"data":{"name":"pfit"},"transform":[{"filter":"datum.s=='S5'"},{"fold":["c","b","m"],"as":["f","y"]}],"mark":{"type":"line","interpolate":"monotone","strokeWidth":1.3},"encoding":{"color":{"field":"f","type":"nominal","scale":{"domain":["c","m","b"],"range":["#27aae1","#d4137f","#111111"]},"legend":null},"strokeDash":{"field":"f","type":"nominal","scale":{"domain":["c","m","b"],"range":[[4,2],[4,2],[1,0]]},"legend":null}}},
  {"data":{"name":"pdata"},"transform":[{"filter":"datum.s=='S5'"}],"mark":{"type":"point","filled":true,"size":14,"color":"#111","opacity":1}}
 ]},
{"width":78,"height":70,
 "encoding":{"x":{"field":"x","type":"quantitative","scale":{"domain":[-53,53],"nice":false,"zero":false},"axis":{"values":[-50,0,50],"title":null,"labelExpr":"replace(datum.label,'\u2212','-')"}},
  "y":{"field":"y","type":"quantitative","scale":{"domain":[0,1],"nice":false},"axis":{"values":[0,0.5,1],"title":null}}},
 "layer":[
  {"data":{"name":"pfit"},"transform":[{"filter":"datum.s=='S6'"},{"fold":["c","b","m"],"as":["f","y"]}],"mark":{"type":"line","interpolate":"monotone","strokeWidth":1.3},"encoding":{"color":{"field":"f","type":"nominal","scale":{"domain":["c","m","b"],"range":["#27aae1","#d4137f","#111111"]},"legend":null},"strokeDash":{"field":"f","type":"nominal","scale":{"domain":["c","m","b"],"range":[[4,2],[4,2],[1,0]]},"legend":null}}},
  {"data":{"name":"pdata"},"transform":[{"filter":"datum.s=='S6'"}],"mark":{"type":"point","filled":true,"size":14,"color":"#111","opacity":1}}
 ]},
{"width":78,"height":21,"data":{"values":[]},"mark":"point","encoding":{}},
{"width":78,"height":21,"data":{"values":[]},"mark":"point","encoding":{}},
{"width":78,"height":21,"data":{"values":[]},"mark":"point","encoding":{}},
{"width":78,"height":21,"data":{"values":[]},"mark":"point","encoding":{}},
{"width":78,"height":21,"data":{"values":[]},"mark":"point","encoding":{}},
{"width":78,"height":21,"data":{"values":[]},"mark":"point","encoding":{}},
{"width":78,"height":67,
 "encoding":{"x":{"field":"x","type":"quantitative","scale":{"type":"log","domain":[0.063,1],"nice":false},"axis":{"values":[0.07,0.08,0.09,0.1,0.2,0.3,0.4,0.5,0.6,0.7,0.8,0.9,1],"labelExpr":"indexof([0.1,0.2,0.4,0.8],datum.value)>=0?datum.label:''","labelPadding":8.5,"title":"B","titleX":-28,"titleY":-73,"titleAlign":"left","titleBaseline":"middle","titleAngle":0,"titleFontWeight":"bold","titleFontSize":10.5,"titleColor":"#111"}},
  "y":{"field":"y","type":"quantitative","scale":{"type":"log","domain":[2.2,59],"nice":false},"axis":{"values":[3,4,5,6,7,8,9,10,20,30,40,50],"labelExpr":"indexof([5,10,20,40],datum.value)>=0?datum.label:''","title":"Sensitivity"}}},
 "layer":[
  {"data":{"name":"band"},"transform":[{"filter":"datum.s=='S1'"}],"mark":{"type":"area","color":"#b5b5b5","opacity":1},"encoding":{"y":{"field":"lo","type":"quantitative","scale":{"type":"log"},"title":null},"y2":{"field":"hi"}}},
  {"data":{"name":"sfit"},"transform":[{"filter":"datum.s=='S1'"}],"mark":{"type":"line","strokeWidth":1.5,"strokeDash":[5,2.5]},"encoding":{"color":{"field":"f","type":"nominal","scale":{"domain":["c","m","b"],"range":["#27aae1","#d4137f","#111111"]},"legend":null}}}
 ]},
{"width":78,"height":67,
 "encoding":{"x":{"field":"x","type":"quantitative","scale":{"type":"log","domain":[0.063,1],"nice":false},"axis":{"values":[0.07,0.08,0.09,0.1,0.2,0.3,0.4,0.5,0.6,0.7,0.8,0.9,1],"labelExpr":"indexof([0.1,0.2,0.4,0.8],datum.value)>=0?datum.label:''","labelPadding":8.5,"title":null}},
  "y":{"field":"y","type":"quantitative","scale":{"type":"log","domain":[2.2,59],"nice":false},"axis":{"values":[3,4,5,6,7,8,9,10,20,30,40,50],"labelExpr":"indexof([5,10,20,40],datum.value)>=0?datum.label:''","title":null}}},
 "layer":[
  {"data":{"name":"band"},"transform":[{"filter":"datum.s=='S2'"}],"mark":{"type":"area","color":"#b5b5b5","opacity":1},"encoding":{"y":{"field":"lo","type":"quantitative","scale":{"type":"log"},"title":null},"y2":{"field":"hi"}}},
  {"data":{"name":"sfit"},"transform":[{"filter":"datum.s=='S2'"}],"mark":{"type":"line","strokeWidth":1.5,"strokeDash":[5,2.5]},"encoding":{"color":{"field":"f","type":"nominal","scale":{"domain":["c","m","b"],"range":["#27aae1","#d4137f","#111111"]},"legend":null}}}
 ]},
{"width":78,"height":67,
 "encoding":{"x":{"field":"x","type":"quantitative","scale":{"type":"log","domain":[0.063,1],"nice":false},"axis":{"values":[0.07,0.08,0.09,0.1,0.2,0.3,0.4,0.5,0.6,0.7,0.8,0.9,1],"labelExpr":"indexof([0.1,0.2,0.4,0.8],datum.value)>=0?datum.label:''","labelPadding":8.5,"title":"Stimulus duration (s)","titleX":89.5,"titleAlign":"center","titlePadding":5}},
  "y":{"field":"y","type":"quantitative","scale":{"type":"log","domain":[2.2,59],"nice":false},"axis":{"values":[3,4,5,6,7,8,9,10,20,30,40,50],"labelExpr":"indexof([5,10,20,40],datum.value)>=0?datum.label:''","title":null}}},
 "layer":[
  {"data":{"name":"band"},"transform":[{"filter":"datum.s=='S3'"}],"mark":{"type":"area","color":"#b5b5b5","opacity":1},"encoding":{"y":{"field":"lo","type":"quantitative","scale":{"type":"log"},"title":null},"y2":{"field":"hi"}}},
  {"data":{"name":"sfit"},"transform":[{"filter":"datum.s=='S3'"}],"mark":{"type":"line","strokeWidth":1.5,"strokeDash":[5,2.5]},"encoding":{"color":{"field":"f","type":"nominal","scale":{"domain":["c","m","b"],"range":["#27aae1","#d4137f","#111111"]},"legend":null}}}
 ]},
{"width":78,"height":67,
 "encoding":{"x":{"field":"x","type":"quantitative","scale":{"type":"log","domain":[0.063,1],"nice":false},"axis":{"values":[0.07,0.08,0.09,0.1,0.2,0.3,0.4,0.5,0.6,0.7,0.8,0.9,1],"labelExpr":"indexof([0.1,0.2,0.4,0.8],datum.value)>=0?datum.label:''","labelPadding":8.5,"title":null}},
  "y":{"field":"y","type":"quantitative","scale":{"type":"log","domain":[2.2,59],"nice":false},"axis":{"values":[3,4,5,6,7,8,9,10,20,30,40,50],"labelExpr":"indexof([5,10,20,40],datum.value)>=0?datum.label:''","title":null}}},
 "layer":[
  {"data":{"name":"band"},"transform":[{"filter":"datum.s=='S4'"}],"mark":{"type":"area","color":"#b5b5b5","opacity":1},"encoding":{"y":{"field":"lo","type":"quantitative","scale":{"type":"log"},"title":null},"y2":{"field":"hi"}}},
  {"data":{"name":"sfit"},"transform":[{"filter":"datum.s=='S4'"}],"mark":{"type":"line","strokeWidth":1.5,"strokeDash":[5,2.5]},"encoding":{"color":{"field":"f","type":"nominal","scale":{"domain":["c","m","b"],"range":["#27aae1","#d4137f","#111111"]},"legend":null}}}
 ]},
{"width":78,"height":67,
 "encoding":{"x":{"field":"x","type":"quantitative","scale":{"type":"log","domain":[0.063,1],"nice":false},"axis":{"values":[0.07,0.08,0.09,0.1,0.2,0.3,0.4,0.5,0.6,0.7,0.8,0.9,1],"labelExpr":"indexof([0.1,0.2,0.4,0.8],datum.value)>=0?datum.label:''","labelPadding":8.5,"title":null}},
  "y":{"field":"y","type":"quantitative","scale":{"type":"log","domain":[2.2,59],"nice":false},"axis":{"values":[3,4,5,6,7,8,9,10,20,30,40,50],"labelExpr":"indexof([5,10,20,40],datum.value)>=0?datum.label:''","title":null}}},
 "layer":[
  {"data":{"name":"band"},"transform":[{"filter":"datum.s=='S5'"}],"mark":{"type":"area","color":"#b5b5b5","opacity":1},"encoding":{"y":{"field":"lo","type":"quantitative","scale":{"type":"log"},"title":null},"y2":{"field":"hi"}}},
  {"data":{"name":"sfit"},"transform":[{"filter":"datum.s=='S5'"}],"mark":{"type":"line","strokeWidth":1.5,"strokeDash":[5,2.5]},"encoding":{"color":{"field":"f","type":"nominal","scale":{"domain":["c","m","b"],"range":["#27aae1","#d4137f","#111111"]},"legend":null}}}
 ]},
{"width":78,"height":67,
 "encoding":{"x":{"field":"x","type":"quantitative","scale":{"type":"log","domain":[0.063,1],"nice":false},"axis":{"values":[0.07,0.08,0.09,0.1,0.2,0.3,0.4,0.5,0.6,0.7,0.8,0.9,1],"labelExpr":"indexof([0.1,0.2,0.4,0.8],datum.value)>=0?datum.label:''","labelPadding":8.5,"title":null}},
  "y":{"field":"y","type":"quantitative","scale":{"type":"log","domain":[2.2,59],"nice":false},"axis":{"values":[3,4,5,6,7,8,9,10,20,30,40,50],"labelExpr":"indexof([5,10,20,40],datum.value)>=0?datum.label:''","title":null}}},
 "layer":[
  {"data":{"name":"band"},"transform":[{"filter":"datum.s=='S6'"}],"mark":{"type":"area","color":"#b5b5b5","opacity":1},"encoding":{"y":{"field":"lo","type":"quantitative","scale":{"type":"log"},"title":null},"y2":{"field":"hi"}}},
  {"data":{"name":"sfit"},"transform":[{"filter":"datum.s=='S6'"}],"mark":{"type":"line","strokeWidth":1.5,"strokeDash":[5,2.5]},"encoding":{"color":{"field":"f","type":"nominal","scale":{"domain":["c","m","b"],"range":["#27aae1","#d4137f","#111111"]},"legend":null}}}
 ]}
]
}
